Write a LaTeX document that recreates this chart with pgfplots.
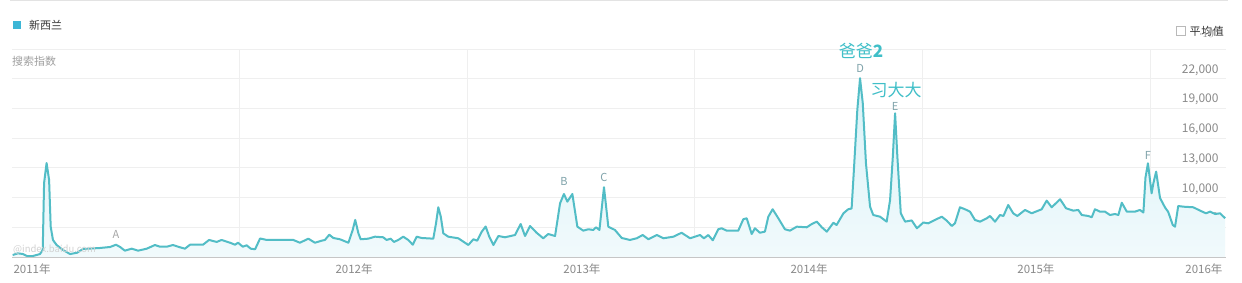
\documentclass[border=0pt]{standalone}
\usepackage{fontspec}
\setmainfont{Noto Sans CJK SC}
\usepackage{pgfplots}
\pgfplotsset{compat=1.18}
\usepackage{pgfplotstable}
\definecolor{linec}{HTML}{52BDC6}
\definecolor{filltop}{HTML}{D8F2F7}
\definecolor{fillbot}{HTML}{F1FAFC}
\definecolor{legsq}{HTML}{3DB6D6}
\definecolor{anno}{HTML}{40BFC8}
\definecolor{lettc}{HTML}{7FA3AA}
\definecolor{tickg}{HTML}{8A8A8A}
\definecolor{gridc}{HTML}{EFEFEF}
\definecolor{txtdark}{HTML}{333333}

\pgfplotstableread{
yr v
2011.003 4200
2011.026 4370
2011.048 4300
2011.066 4100
2011.092 4100
2011.123 4300
2011.135 4710
2011.141 11470
2011.152 13490
2011.163 11780
2011.170 7060
2011.180 5720
2011.196 5210
2011.224 4710
2011.255 4300
2011.286 4430
2011.312 4810
2011.387 4910
2011.431 5010
2011.457 5240
2011.475 5010
2011.496 4640
2011.526 4840
2011.554 4640
2011.592 4840
2011.628 5210
2011.650 5040
2011.680 5040
2011.707 5210
2011.738 4980
2011.760 4840
2011.782 5240
2011.839 5240
2011.866 5720
2011.899 5520
2011.921 5720
2011.958 5440
2011.980 5240
2011.993 5440
2012.014 5040
2012.031 5180
2012.049 4840
2012.068 4780
2012.090 5870
2012.119 5720
2012.236 5720
2012.265 5440
2012.302 5850
2012.331 5440
2012.361 5650
2012.375 5720
2012.394 6250
2012.412 5920
2012.441 5790
2012.478 5440
2012.497 6730
2012.508 7740
2012.522 6390
2012.532 5790
2012.565 5850
2012.595 6050
2012.631 5990
2012.646 5720
2012.664 5850
2012.678 5520
2012.697 5720
2012.719 6050
2012.741 5720
2012.761 5240
2012.778 6050
2012.800 5920
2012.851 5850
2012.863 7400
2012.873 9020
2012.884 8070
2012.895 6390
2012.917 6050
2012.961 5890
2012.983 5550
2013.005 5210
2013.027 5790
2013.044 5650
2013.064 6560
2013.081 7080
2013.097 6050
2013.115 5210
2013.137 6120
2013.166 5990
2013.210 6220
2013.235 7330
2013.254 6120
2013.276 7130
2013.305 6450
2013.334 5890
2013.356 6320
2013.386 6120
2013.408 9420
2013.425 10360
2013.440 9590
2013.462 10360
2013.484 7060
2013.510 6660
2013.532 6800
2013.554 6730
2013.566 7000
2013.581 6730
2013.601 11040
2013.620 7060
2013.649 6730
2013.679 5920
2013.715 5720
2013.745 5890
2013.771 6220
2013.796 5790
2013.833 6220
2013.862 5890
2013.906 6050
2013.942 6450
2013.979 5890
2014.023 6220
2014.040 5890
2014.059 6220
2014.079 5690
2014.103 6800
2014.118 6900
2014.140 6660
2014.191 6660
2014.213 7810
2014.228 7910
2014.250 6320
2014.264 6900
2014.286 6450
2014.308 6560
2014.323 8070
2014.342 8820
2014.367 7910
2014.396 6800
2014.418 6660
2014.448 7060
2014.492 7000
2014.514 7330
2014.536 7570
2014.558 7000
2014.580 6560
2014.609 7460
2014.623 7230
2014.653 8410
2014.674 8820
2014.689 8900
2014.699 12790
2014.714 18850
2014.726 22050
2014.738 19520
2014.752 13460
2014.770 9080
2014.784 8240
2014.814 8070
2014.843 7570
2014.858 9760
2014.870 14130
2014.880 18510
2014.890 14130
2014.905 8410
2014.924 7570
2014.953 7690
2014.976 6900
2015.004 7480
2015.026 7400
2015.055 7740
2015.085 8070
2015.107 7670
2015.129 7130
2015.143 7400
2015.165 9020
2015.187 8820
2015.209 8580
2015.231 7740
2015.253 7570
2015.283 7910
2015.297 8140
2015.319 7570
2015.341 8240
2015.356 8140
2015.377 9250
2015.399 8410
2015.417 8140
2015.451 8750
2015.480 8410
2015.524 8820
2015.546 9690
2015.568 9020
2015.605 9830
2015.631 8920
2015.663 8680
2015.685 8750
2015.700 8240
2015.729 8140
2015.744 8010
2015.758 8820
2015.780 8580
2015.802 8580
2015.824 8240
2015.846 8340
2015.861 8240
2015.876 9480
2015.898 8580
2015.934 8580
2015.956 8750
2015.971 8490
2015.980 12000
2015.991 13460
2016.007 10430
2016.015 11470
2016.027 12620
2016.044 9960
2016.066 9000
2016.080 8550
2016.100 7230
2016.110 7060
2016.124 9150
2016.146 9080
2016.190 9020
2016.220 8680
2016.246 8410
2016.264 8580
2016.286 8340
2016.308 8410
2016.330 7910
}\nzdata

\begin{document}
\begin{tikzpicture}[x=1pt,y=1pt]
\useasboundingbox (0,0) rectangle (1242,283);
\fill[white] (0,0) rectangle (1242,283);
\draw[gray!22, line width=1pt] (10,282) -- (1228,282);
% legend
\fill[legsq] (12.5,254) rectangle (20.5,262.3);
\node[anchor=west, inner sep=0, font=\fontsize{11}{13}\selectfont, text=txtdark] at (29,258) {新西兰};
% checkbox
\draw[gray!55, line width=0.6pt] (1176,247.5) rectangle (1185.5,257);
\node[anchor=west, inner sep=0, font=\fontsize{11}{13}\selectfont, text=txtdark] at (1189.5,252) {平\kern0.6pt 均\kern0.6pt 值};
\begin{axis}[
  at={(12pt,26pt)}, anchor=south west,
  width=1214pt, height=208pt, scale only axis,
  xmin=2011, xmax=2016.334,
  ymin=4000, ymax=25000,
  clip mode=individual,
  axis x line*=bottom,
  axis y line*=right,
  x axis line style={draw=gray!45, line width=0.8pt, -},
  y axis line style={draw=none},
  major tick length=0pt,
  xtick={2011.088,2012.503,2013.504,2014.502,2015.499,2016.237},
  xticklabels={2011年,2012年,2013年,2014年,2015年,2016年},
  xticklabel style={anchor=base, yshift=-17pt, font=\fontsize{11.5}{13}\selectfont, text=tickg},
  extra x ticks={2012,2013,2014,2015,2016},
  extra x tick labels={},
  extra x tick style={grid=major, major grid style={draw=gridc, line width=0.8pt}},
  ytick={4000,7000,10000,13000,16000,19000,22000},
  yticklabels={{4,000},{7,000},{10,000},{13,000},{16,000},{19,000},{22,000}},
  extra y ticks={25000},
  extra y tick labels={},
  extra y tick style={grid=major, major grid style={draw=gridc, line width=0.8pt}},
  yticklabel style={anchor=base east, xshift=-4pt, yshift=5.5pt, font=\fontsize{12}{14}\selectfont, text=tickg},
  ymajorgrids,
  major grid style={draw=gridc, line width=0.8pt},
  /pgf/number format/assume math mode=true,
]
\addplot[draw=none, top color=filltop, bottom color=fillbot] table[x=yr, y=v] {\nzdata} \closedcycle;
\addplot[draw=linec, line width=2pt, line join=round, mark=none] table[x=yr, y=v] {\nzdata};
\node[font=\fontsize{11}{13}\selectfont, text=gray!70] at (axis cs:2011.457,6320) {A};
\node[font=\fontsize{11}{13}\selectfont, text=lettc] at (axis cs:2013.425,11575) {B};
\node[font=\fontsize{11}{13}\selectfont, text=lettc] at (axis cs:2013.601,11980) {C};
\node[font=\fontsize{11}{13}\selectfont, text=lettc] at (axis cs:2014.726,22990) {D};
\node[font=\fontsize{11}{13}\selectfont, text=lettc] at (axis cs:2014.880,19150) {E};
\node[font=\fontsize{11}{13}\selectfont, text=lettc] at (axis cs:2015.991,14300) {F};
\node[font=\fontsize{17}{19}\selectfont, text=anno] at (axis cs:2014.730,24806) {爸爸\textbf{2}};
\node[font=\fontsize{17}{19}\selectfont, text=anno] at (axis cs:2014.884,20870) {习大大};
\end{axis}
\node[anchor=west, inner sep=0, font=\fontsize{11}{13}\selectfont, text=gray!75] at (12,222) {搜索指数};
\node[anchor=west, inner sep=0, font=\fontsize{9.5}{11}\selectfont, text=gray!35] at (13,33) {@index.baidu.com};
\end{tikzpicture}
\end{document}
